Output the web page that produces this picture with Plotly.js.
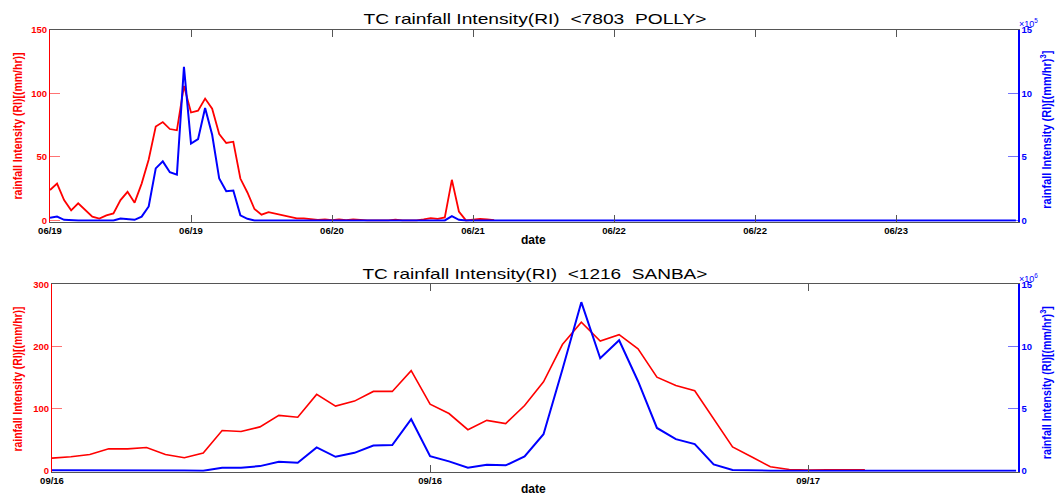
<!DOCTYPE html>
<html>
<head>
<meta charset="utf-8">
<script src="https://cdn.plot.ly/plotly-3.0.1.min.js"></script>
<style>html,body{margin:0;padding:0;background:#fff;}#chart{width:1058px;height:495px;}</style>
</head>
<body>
<div id="chart"></div>
<script>
// ---------- data ----------
// Top panel: TC 7803 POLLY (samples at equal steps; 20 samples per date tick)
const pollyTickVals = [0, 20, 40, 60, 80, 100, 120];
const pollyTickText = ['06/19', '06/19', '06/20', '06/21', '06/22', '06/22', '06/23'];
// rainfall intensity RI (mm/hr), left axis
const pollyRI = [24, 29, 16, 8, 13.5, 8.5, 3, 1.5, 4, 5.5,
  16, 22.5, 14, 29, 48, 74, 77.5, 72, 71, 106,
  85, 86.5, 96, 88, 68, 61, 62, 33, 22, 9,
  4.5, 6.5, 5.2, 3.9, 2.9, 1.6, 1.6, 1, 0.5, 0.8,
  0.3, 0.8, 0.3, 0.8, 0.3, 0, 0, 0, 0, 0.6,
  0, 0, 0, 0.8, 1.8, 1.3, 2.3, 32, 7, 0,
  0.5, 1.3, 0.8, 0.3];
// RI^3 ((mm/hr)^3, x10^5), right axis
const pollyRI3 = [0.2, 0.3, 0.05, 0, 0, 0, 0, 0, 0, 0,
  0.15, 0.1, 0.05, 0.3, 1.1, 4.1, 4.65, 3.8, 3.6, 12.1,
  6.05, 6.4, 8.85, 6.75, 3.3, 2.3, 2.35, 0.4, 0.13, 0,
  0, 0, 0, 0, 0, 0, 0, 0, 0, 0,
  0, 0, 0, 0, 0, 0, 0, 0, 0, 0,
  0, 0, 0, 0, 0, 0, 0, 0.34, 0.05, 0,
  0, 0, 0, 0, 0, 0, 0, 0, 0, 0,
  0, 0, 0, 0, 0, 0, 0, 0, 0, 0,
  0, 0, 0, 0, 0, 0, 0, 0, 0, 0,
  0, 0, 0, 0, 0, 0, 0, 0, 0, 0,
  0, 0, 0, 0, 0, 0, 0, 0, 0, 0,
  0, 0, 0, 0, 0, 0, 0, 0, 0, 0,
  0, 0, 0, 0, 0, 0, 0, 0, 0, 0,
  0, 0, 0, 0, 0, 0, 0, 0];

// Bottom panel: TC 1216 SANBA
const sanbaTickVals = [0, 20, 40];
const sanbaTickText = ['09/16', '09/16', '09/17'];
const sanbaRI = [20.3, 22.4, 26.2, 35.2, 35.2, 37.4, 26.2, 20.8, 28.3, 64.6,
  63, 70.5, 89, 86, 122.8, 104, 112, 127.6, 127.6, 161,
  107, 92, 66, 81, 75.8, 105, 143, 203, 239, 208.7,
  219, 196, 150.5, 137, 128.6, 82.7, 38.4, 22.4, 6.4, 2,
  1, 1.5, 1.5, 1.5];
// RI^3 ((mm/hr)^3, x10^6)
const sanbaRI3 = [0.03, 0.03, 0.03, 0.08, 0.08, 0.08, 0.05, 0.02, 0, 0.24,
  0.24, 0.37, 0.72, 0.64, 1.87, 1.12, 1.44, 2.03, 2.06, 4.14,
  1.17, 0.75, 0.24, 0.48, 0.43, 1.15, 2.94, 8.14, 13.56, 9.05,
  10.5, 7.2, 3.44, 2.54, 2.14, 0.5, 0.05, 0, 0, 0,
  0, 0, 0, 0, 0, 0, 0, 0, 0, 0,
  0, 0];

const leftTicksPolly = [0, 50, 100, 150];
const leftTicksSanba = [0, 100, 200, 300];
const rightTicks = [0, 5, 10, 15];

// ---------- layout helpers ----------
const W = 1058, H = 495;
const fx = px => px / W;
const fy = py => 1 - py / H;
const RED = '#ff0000', BLUE = '#0000ff';
const FONT = 'Liberation Sans, Arial, Helvetica, sans-serif';
const idx = arr => arr.map((_, i) => i);

const traces = [
  {x: idx(pollyRI), y: pollyRI, xaxis: 'x', yaxis: 'y', type: 'scatter', mode: 'lines',
   line: {color: RED, width: 1.8}, hoverinfo: 'skip'},
  {x: idx(pollyRI3), y: pollyRI3, xaxis: 'x', yaxis: 'y2', type: 'scatter', mode: 'lines',
   line: {color: BLUE, width: 2}, hoverinfo: 'skip'},
  {x: idx(sanbaRI), y: sanbaRI, xaxis: 'x2', yaxis: 'y3', type: 'scatter', mode: 'lines',
   line: {color: RED, width: 1.6}, hoverinfo: 'skip'},
  {x: idx(sanbaRI3), y: sanbaRI3, xaxis: 'x2', yaxis: 'y4', type: 'scatter', mode: 'lines',
   line: {color: BLUE, width: 2}, hoverinfo: 'skip'}
];

function xAxis(domainPx, range, vals, text, anchor) {
  return {
    domain: [fx(domainPx[0]), fx(domainPx[1])], anchor: anchor, range: range,
    tickmode: 'array', tickvals: vals, ticktext: text,
    ticks: 'inside', ticklen: 7, tickwidth: 1, tickcolor: '#555',
    showline: true, linecolor: '#555', linewidth: 1, mirror: 'ticks',
    showgrid: false, zeroline: false, fixedrange: true,
    tickfont: {family: FONT, size: 9.5, color: '#000', weight: 'bold'}
  };
}
function yLeft(domainPx, range, vals, anchor) {
  return {
    domain: [fy(domainPx[1]), fy(domainPx[0])], anchor: anchor, range: range,
    tickmode: 'array', tickvals: vals, ticktext: vals.map(String),
    ticks: 'inside', ticklen: 10, tickwidth: 1, tickcolor: 'rgba(255,0,0,0.55)',
    showline: true, linecolor: RED, linewidth: 1,
    showgrid: false, zeroline: false, fixedrange: true,
    tickfont: {family: FONT, size: 9.5, color: RED, weight: 'bold'}
  };
}
function yRight(over, range, anchor) {
  return {
    overlaying: over, side: 'right', anchor: anchor, range: range,
    tickmode: 'array', tickvals: rightTicks, ticktext: rightTicks.map(String),
    ticks: 'inside', ticklen: 10, tickwidth: 1, tickcolor: 'rgba(0,0,255,0.55)',
    showline: true, linecolor: BLUE, linewidth: 1.5,
    showgrid: false, zeroline: false, fixedrange: true,
    tickfont: {family: FONT, size: 9.5, color: BLUE, weight: 'bold'}
  };
}

const topPx = [30, 221.7], botPx = [284.3, 471.7];

function ann(text, xpx, ypx, font, extra) {
  return Object.assign({text: text, x: fx(xpx), y: fy(ypx), xref: 'paper', yref: 'paper',
    showarrow: false, xanchor: 'center', yanchor: 'middle', font: font}, extra || {});
}
const titleFont = {family: FONT, size: 15, color: '#000'};
const dateFont = {family: FONT, size: 12, color: '#000', weight: 'bold'};
const redTitleFont = {family: FONT, size: 12, color: RED, weight: 'bold'};
const blueTitleFont = {family: FONT, size: 12, color: BLUE, weight: 'bold'};
const expFont = {family: FONT, size: 9, color: BLUE};

const annotations = [
  ann('TC rainfall Intensity(RI)\u00a0\u00a0<7803\u00a0\u00a0POLLY>', 534.5, 18, titleFont),
  ann('TC rainfall Intensity(RI)\u00a0\u00a0<1216\u00a0\u00a0SANBA>', 534.5, 273, titleFont),
  ann('date', 533, 240, dateFont),
  ann('date', 533, 488.5, dateFont),
  ann('rainfall Intensity (RI)[(mm/hr)]', 18, 126, redTitleFont, {textangle: -90}),
  ann('rainfall Intensity (RI)[(mm/hr)]', 18, 379, redTitleFont, {textangle: -90}),
  ann('rainfall Intensity (RI)[(mm/hr)<sup>3</sup>]', 1046, 130, blueTitleFont, {textangle: -90}),
  ann('rainfall Intensity (RI)[(mm/hr)<sup>3</sup>]', 1046, 383, blueTitleFont, {textangle: -90}),
  ann('\u00d710<sup>5</sup>', 1028, 23.5, expFont),
  ann('\u00d710<sup>6</sup>', 1028, 277.5, expFont)
];

// target drawn lengths (px) of texts, measured on the reference
const textLengths = {0: [343, 'spacingAndGlyphs'], 1: [345, 'spacingAndGlyphs'],
  4: [147, 'spacingAndGlyphs'], 5: [145, 'spacingAndGlyphs'],
  6: [158, 'spacingAndGlyphs'], 7: [153, 'spacingAndGlyphs']};

const layout = {
  width: W, height: H, margin: {l: 0, r: 0, t: 0, b: 0},
  paper_bgcolor: '#fff', plot_bgcolor: '#fff', showlegend: false,
  xaxis: xAxis([50, 1018], [0, 137.3], pollyTickVals, pollyTickText, 'y'),
  yaxis: yLeft(topPx, [-1, 150], leftTicksPolly, 'x'),
  yaxis2: yRight('y', [-0.1, 15], 'x'),
  xaxis2: xAxis([52, 1018], [0, 51.1], sanbaTickVals, sanbaTickText, 'y3'),
  yaxis3: yLeft(botPx, [-1.6, 300], leftTicksSanba, 'x2'),
  yaxis4: yRight('y3', [-0.08, 15], 'x2'),
  annotations: annotations
};

Plotly.newPlot('chart', traces, layout, {staticPlot: true, displayModeBar: false}).then(gd => {
  Object.keys(textLengths).forEach(k => {
    const t = gd.querySelector('g.annotation[data-index="' + k + '"] text.annotation-text');
    if (t) {
      t.setAttribute('textLength', textLengths[k][0]);
      t.setAttribute('lengthAdjust', textLengths[k][1]);
    }
  });
});
</script>
</body>
</html>
